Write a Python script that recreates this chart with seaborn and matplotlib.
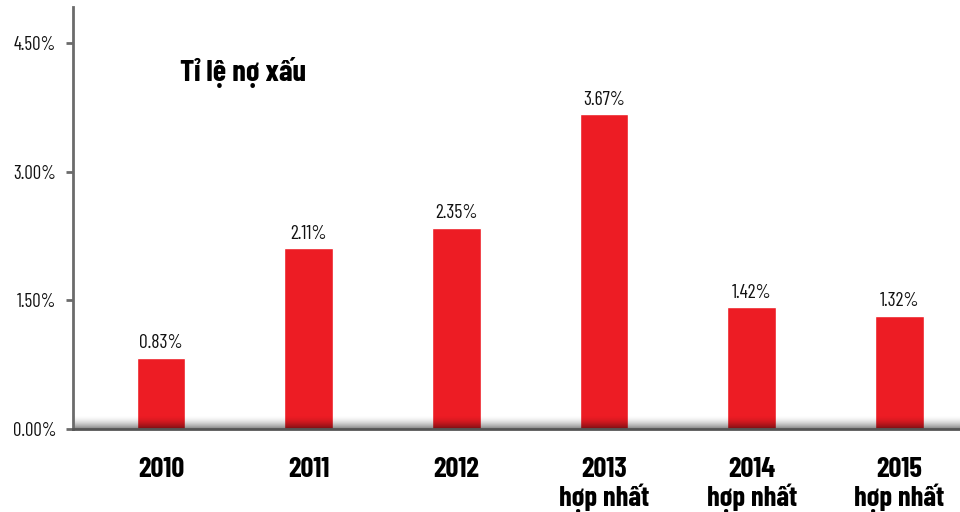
import numpy as np
import pandas as pd
import matplotlib
matplotlib.use("Agg")
import matplotlib.pyplot as plt
import seaborn as sns

years = ["2010", "2011", "2012", "2013\nhợp nhất", "2014\nhợp nhất", "2015\nhợp nhất"]
npl_ratio = [0.83, 2.11, 2.35, 3.67, 1.42, 1.32]
value_labels = ["0.83%", "2.11%", "2.35%", "3.67%", "1.42%", "1.32%"]
y_ticks = [0.0, 1.5, 3.0, 4.5]
y_tick_labels = ["0.00%", "1.50%", "3.00%", "4.50%"]
title = "Tỉ lệ nợ xấu"

sns.set_theme(style="white")
plt.rcParams["font.family"] = ["Barlow Condensed", "DejaVu Sans"]

df = pd.DataFrame({"year": years, "ratio": npl_ratio})

fig = plt.figure(figsize=(9.6, 5.12), dpi=100)
ax = fig.add_axes([0.076, 0.162, 0.924, 0.824])

red = "#ED1C24"
sns.barplot(data=df, x="year", y="ratio", color=red, width=0.33,
            saturation=1, ax=ax, zorder=2)

x_lo, x_hi = -0.596, 5.41
y_hi = 4.92

# soft shadow along the baseline
grad = np.linspace(0, 1, 64).reshape(-1, 1) ** 1.8
cmap = matplotlib.colors.LinearSegmentedColormap.from_list(
    "shade", [(0, 0, 0, 0), (0, 0, 0, 0.5)])
ax.imshow(grad, extent=(x_lo, x_hi, 0, 0.16), origin="upper",
          aspect="auto", cmap=cmap, zorder=3, interpolation="bicubic")
ax.set_xlim(x_lo, x_hi)
ax.set_ylim(0, y_hi)

for i, (v, lab) in enumerate(zip(npl_ratio, value_labels)):
    ax.text(i, v + 0.11, lab, ha="center", va="baseline", fontsize=14,
            color="#111111", zorder=4)

ax.set_yticks(y_ticks)
ax.set_yticklabels(y_tick_labels, fontsize=13.5, color="#111111")
ax.set_xticks(range(len(years)))
ax.set_xticklabels(years, fontsize=20.5, fontweight="bold", color="#000000",
                   linespacing=1.08, va="top")
ax.tick_params(axis="x", length=0, pad=20)
ax.tick_params(axis="y", length=5, width=2, color="#6b6b6b", pad=7,
               direction="out", left=True)
ax.set_xlabel("")
ax.set_ylabel("")

for s in ["top", "right"]:
    ax.spines[s].set_visible(False)
ax.spines["left"].set_color("#6b6b6b")
ax.spines["left"].set_linewidth(2)
ax.spines["bottom"].set_color("#555555")
ax.spines["bottom"].set_linewidth(2)
ax.spines["left"].set_zorder(5)
ax.spines["bottom"].set_zorder(5)

ax.text(0.1206, 0.825, title, transform=ax.transAxes, fontsize=22,
        fontweight="bold", color="#000000", ha="left", va="baseline")

fig.savefig("out.png", dpi=100)
